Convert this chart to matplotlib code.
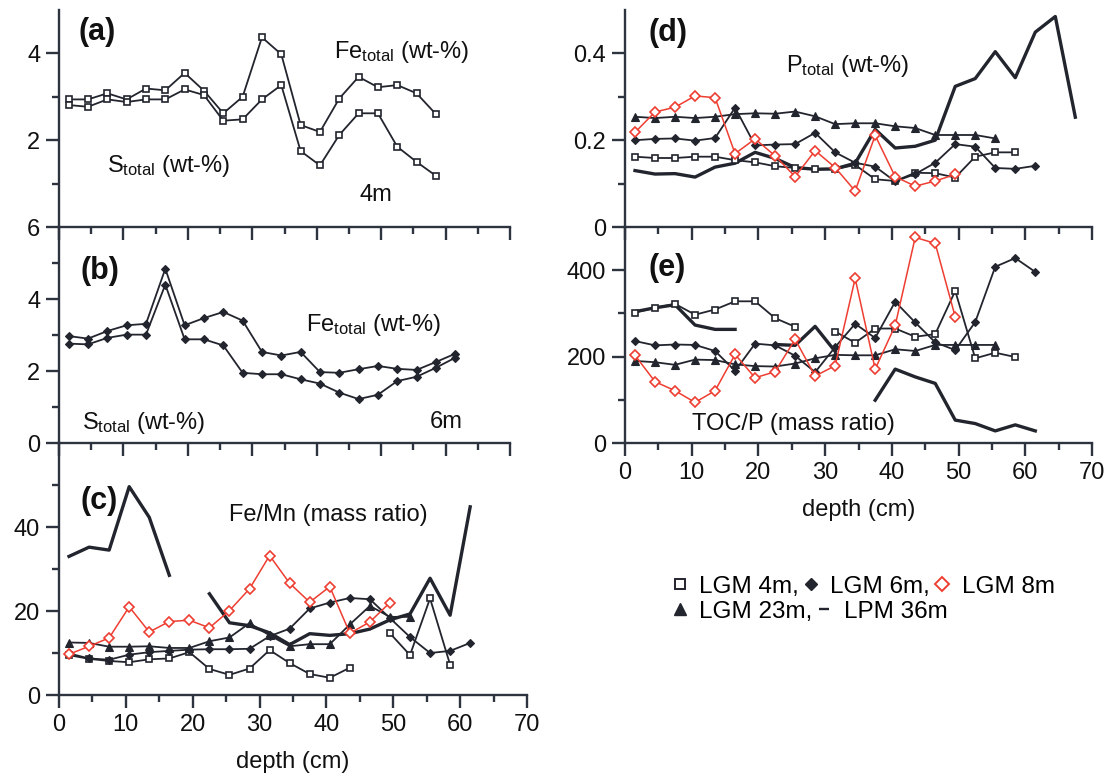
import numpy as np
import matplotlib
matplotlib.use("Agg")
import matplotlib.pyplot as plt
from matplotlib.lines import Line2D
from matplotlib.ticker import FixedLocator, MultipleLocator, FuncFormatter

plt.rcParams["font.family"] = ["Liberation Sans", "DejaVu Sans"]
plt.rcParams["mathtext.fontset"] = "custom"
plt.rcParams["mathtext.rm"] = "Liberation Sans"
plt.rcParams["mathtext.it"] = "Liberation Sans:italic"
plt.rcParams["mathtext.bf"] = "Liberation Sans:bold"

nan = np.nan

# sample depths (cm)
depth = [1.5, 4.5, 7.5, 10.5, 13.5, 16.5, 19.5, 22.5, 25.5, 28.5, 31.5, 34.5,
         37.5, 40.5, 43.5, 46.5, 49.5, 52.5, 55.5, 58.5, 61.5, 64.5, 67.5]

# (a) LGM 4m, wt-%
a_fe = [2.94, 2.94, 3.08, 2.94, 3.19, 3.15, 3.55, 3.14, 2.62, 3.00, 4.37, 3.98,
        2.35, 2.19, 2.96, 3.46, 3.22, 3.27, 3.08, 2.60]
a_s = [2.81, 2.77, 2.94, 2.88, 2.94, 2.94, 3.17, 3.04, 2.45, 2.48, 2.94, 3.27,
       1.75, 1.42, 2.12, 2.62, 2.62, 1.85, 1.50, 1.18]

# (b) LGM 6m, wt-%
b_fe = [2.97, 2.90, 3.11, 3.27, 3.31, 4.84, 3.27, 3.47, 3.64, 3.40, 2.53, 2.43,
        2.53, 1.97, 1.95, 2.05, 2.14, 2.06, 2.03, 2.25, 2.48]
b_s = [2.76, 2.74, 2.92, 3.01, 3.01, 4.40, 2.88, 2.88, 2.71, 1.95, 1.91, 1.91,
       1.77, 1.65, 1.40, 1.22, 1.34, 1.72, 1.84, 2.09, 2.37]

# (c) Fe/Mn mass ratio
c_4m = [9.5, 8.6, 8.1, 7.8, 8.5, 8.7, 10.2, 6.2, 4.8, 6.3, 10.7, 7.6, 5.0, 4.1,
        6.5, nan, 14.7, 9.5, 23.0, 7.2]
c_6m = [9.9, 8.7, 8.4, 9.6, 10.2, 10.5, 10.8, 10.9, 10.9, 11.0, 14.0, 15.8, 20.6,
        22.0, 23.1, 22.8, 18.3, 13.8, 10.0, 10.5, 12.4]
c_8m = [9.7, 11.6, 13.6, 21.0, 15.0, 17.5, 17.8, 16.0, 20.1, 25.3, 33.2, 26.6,
        22.1, 25.8, 14.7, 17.4, 22.0]
c_23m = [12.5, 12.4, 11.5, 11.5, 11.6, 11.2, 11.2, 12.8, 13.7, 17.1, 14.2, 11.6,
         12.1, 12.1, 16.8, 21.2, 18.6, 18.6]
c_lpm = [33.0, 35.2, 34.5, 49.6, 42.3, 28.5, nan, 24.1, 17.2, 16.5, 14.8, 12.0,
         14.6, 14.2, 14.6, 15.7, 17.9, 19.3, 27.8, 19.0, 44.8]

# (d) P total, wt-%
d_4m = [0.162, 0.159, 0.159, 0.162, 0.162, 0.154, 0.149, 0.140, 0.136, 0.133,
        0.133, 0.143, 0.110, 0.106, 0.125, 0.124, 0.114, 0.162, 0.172, 0.172]
d_6m = [0.200, 0.203, 0.204, 0.199, 0.205, 0.275, 0.188, 0.190, 0.191, 0.217,
        0.172, 0.148, 0.139, 0.105, 0.122, 0.148, 0.191, 0.185, 0.136, 0.134, 0.141]
d_8m = [0.218, 0.265, 0.276, 0.302, 0.298, 0.169, 0.203, 0.164, 0.116, 0.176,
        0.137, 0.083, 0.211, 0.116, 0.094, 0.106, 0.121]
d_23m = [0.254, 0.251, 0.254, 0.251, 0.254, 0.260, 0.262, 0.261, 0.266, 0.255,
         0.237, 0.239, 0.239, 0.232, 0.228, 0.212, 0.212, 0.212, 0.204]
d_lpm = [0.130, 0.122, 0.123, 0.115, 0.138, 0.147, 0.172, 0.158, 0.137, 0.133,
         0.134, 0.147, 0.225, 0.182, 0.186, 0.200, 0.324, 0.342, 0.404, 0.344,
         0.449, 0.485, 0.253]

# (e) TOC/P mass ratio
e_4m = [302, 313, 322, 297, 309, 328, 328, 289, 269, nan, 258, 232, 265, 265,
        246, 252, 352, 196, 209, 199]
e_6m = [236, 226, 228, 227, 213, 167, 230, 226, 202, 164, 222, 276, 243, 327,
        279, 233, 215, 280, 408, 428, 396]
e_8m = [203, 142, 121, 94, 121, 205, 151, 165, 240, 155, 179, 381, 171, 272,
        476, 462, 292]
e_23m = [190, 187, 181, 193, 192, 182, 178, 177, 184, 196, 204, 203, 203, 217,
         213, 227, 227, 227, 227]
e_lpm = [304, 313, 320, 273, 263, 263, nan, 228, 226, 270, 212, nan, 99, 171,
         153, 138, 53, 45, 28, 42, 28]

INK = "#22252e"
AXC = "#2e3340"
RED = "#ee3d31"

STYLE = {
    "4m": dict(color=INK, lw=1.3, marker="s", ms=4.6, mfc="white", mec=INK, mew=1.2),
    "6m": dict(color=INK, lw=1.3, marker="D", ms=4.3, mfc=INK, mec=INK, mew=0.8),
    "8m": dict(color=RED, lw=1.1, marker="D", ms=4.8, mfc="white", mec=RED, mew=1.2),
    "23m": dict(color=INK, lw=1.3, marker="^", ms=5.8, mfc=INK, mec=INK, mew=0.8),
    "LPM": dict(color=INK, lw=2.4),
}

W, H = 1111, 776
FS = 17


def px_rect(x0, x1, y0, y1):
    return [x0 / W, 1 - y1 / H, (x1 - x0) / W, (y1 - y0) / H]


def frame(ax, ylim, major_y, minor_y, xlabels=False):
    ax.set_facecolor("none")
    for s in ("top", "right"):
        ax.spines[s].set_visible(False)
    for s in ("left", "bottom"):
        ax.spines[s].set_linewidth(1.7)
        ax.spines[s].set_color(AXC)
    ax.set_xlim(0, 70)
    ax.set_ylim(*ylim)
    ax.xaxis.set_major_locator(MultipleLocator(10))
    ax.xaxis.set_minor_locator(MultipleLocator(5))
    ax.yaxis.set_major_locator(FixedLocator(major_y))
    ax.yaxis.set_minor_locator(FixedLocator(minor_y))
    ax.yaxis.set_major_formatter(FuncFormatter(lambda v, _: f"{v:g}"))
    ax.tick_params(which="major", direction="out", length=9.5, width=1.7,
                   color=AXC, labelsize=FS, pad=4, labelcolor="#111111")
    ax.tick_params(which="minor", direction="out", length=5, width=1.7, color=AXC)
    ax.tick_params(axis="x", labelbottom=xlabels)
    if xlabels:
        ax.set_xlabel("depth (cm)", fontsize=FS, labelpad=11, color="#111111")


def draw(ax, values, key):
    ax.plot(depth[:len(values)], values, **STYLE[key], clip_on=False)


fig = plt.figure(figsize=(W / 100, H / 100), dpi=100)
fig.patch.set_facecolor("white")

ax_a = fig.add_axes(px_rect(59, 510, 10, 227))
ax_b = fig.add_axes(px_rect(59, 510, 227, 443))
ax_c = fig.add_axes(px_rect(59, 527, 443, 695))
ax_d = fig.add_axes(px_rect(625, 1092, 10, 227))
ax_e = fig.add_axes(px_rect(625, 1092, 227, 443))

frame(ax_a, (0, 5), [2, 4], [1, 3])
frame(ax_b, (0, 6), [0, 2, 4, 6], [1, 3, 5])
frame(ax_c, (0, 60), [0, 20, 40], [10, 30, 50], xlabels=True)
frame(ax_d, (0, 0.5), [0, 0.2, 0.4], [0.1, 0.3])
frame(ax_e, (0, 500), [0, 200, 400], [100, 300], xlabels=True)

draw(ax_a, a_fe, "4m")
draw(ax_a, a_s, "4m")
draw(ax_b, b_fe, "6m")
draw(ax_b, b_s, "6m")

for ax, sets in ((ax_c, (c_lpm, c_4m, c_6m, c_23m, c_8m)),
                 (ax_d, (d_lpm, d_4m, d_6m, d_23m, d_8m)),
                 (ax_e, (e_lpm, e_4m, e_6m, e_23m, e_8m))):
    for vals, key in zip(sets, ("LPM", "4m", "6m", "23m", "8m")):
        draw(ax, vals, key)

tk = dict(fontsize=FS, color="#111111", va="baseline", ha="left")
bold = dict(fontsize=22, fontweight="bold", color="#111111", va="center", ha="left")

ax_a.text(3.1, 4.5, "(a)", **bold)
ax_a.text(42.7, 3.90, "Fe$_{\\rm total}$ (wt-%)", **tk)
ax_a.text(7.5, 1.27, "S$_{\\rm total}$ (wt-%)", **tk)
ax_a.text(46.6, 0.59, "4m", **tk)

ax_b.text(3.4, 4.77, "(b)", **bold)
ax_b.text(38.3, 3.11, "Fe$_{\\rm total}$ (wt-%)", **tk)
ax_b.text(3.5, 0.38, "S$_{\\rm total}$ (wt-%)", **tk)
ax_b.text(57.5, 0.41, "6m", **tk)

ax_c.text(3.2, 46.2, "(c)", **bold)
ax_c.text(25.4, 41.5, "Fe/Mn (mass ratio)", **tk)

ax_d.text(3.5, 0.446, "(d)", **bold)
ax_d.text(24.2, 0.358, "P$_{\\rm total}$ (wt-%)", **tk)

ax_e.text(3.5, 404, "(e)", **bold)
ax_e.text(10.0, 29, "TOC/P (mass ratio)", **tk)

# legend, one row per legend call
h_4m = Line2D([], [], ls="none", marker="s", ms=6.5, mfc="white", mec=INK, mew=1.4)
h_6m = Line2D([], [], ls="none", marker="D", ms=6.5, mfc=INK, mec=INK)
h_8m = Line2D([], [], ls="none", marker="D", ms=7, mfc="white", mec=RED, mew=1.4)
h_23m = Line2D([], [], ls="none", marker="^", ms=9, mfc=INK, mec=INK)
h_lpm = Line2D([], [], ls="none", marker="_", ms=7, mew=1.7, color=INK)

leg_kw = dict(loc="center left", frameon=False, fontsize=17.5, handlelength=0.7,
              handletextpad=0.45, columnspacing=0.15, borderpad=0, borderaxespad=0)
fig.legend([h_4m, h_6m, h_8m], ["LGM 4m,", "LGM 6m,", "LGM 8m"], ncol=3,
           bbox_to_anchor=(671 / W, 1 - 587 / H), **leg_kw)
fig.legend([h_23m, h_lpm], ["LGM 23m,", "LPM 36m"], ncol=2,
           bbox_to_anchor=(671 / W, 1 - 612 / H), **leg_kw)

fig.savefig("out.png", dpi=100, facecolor="white")
